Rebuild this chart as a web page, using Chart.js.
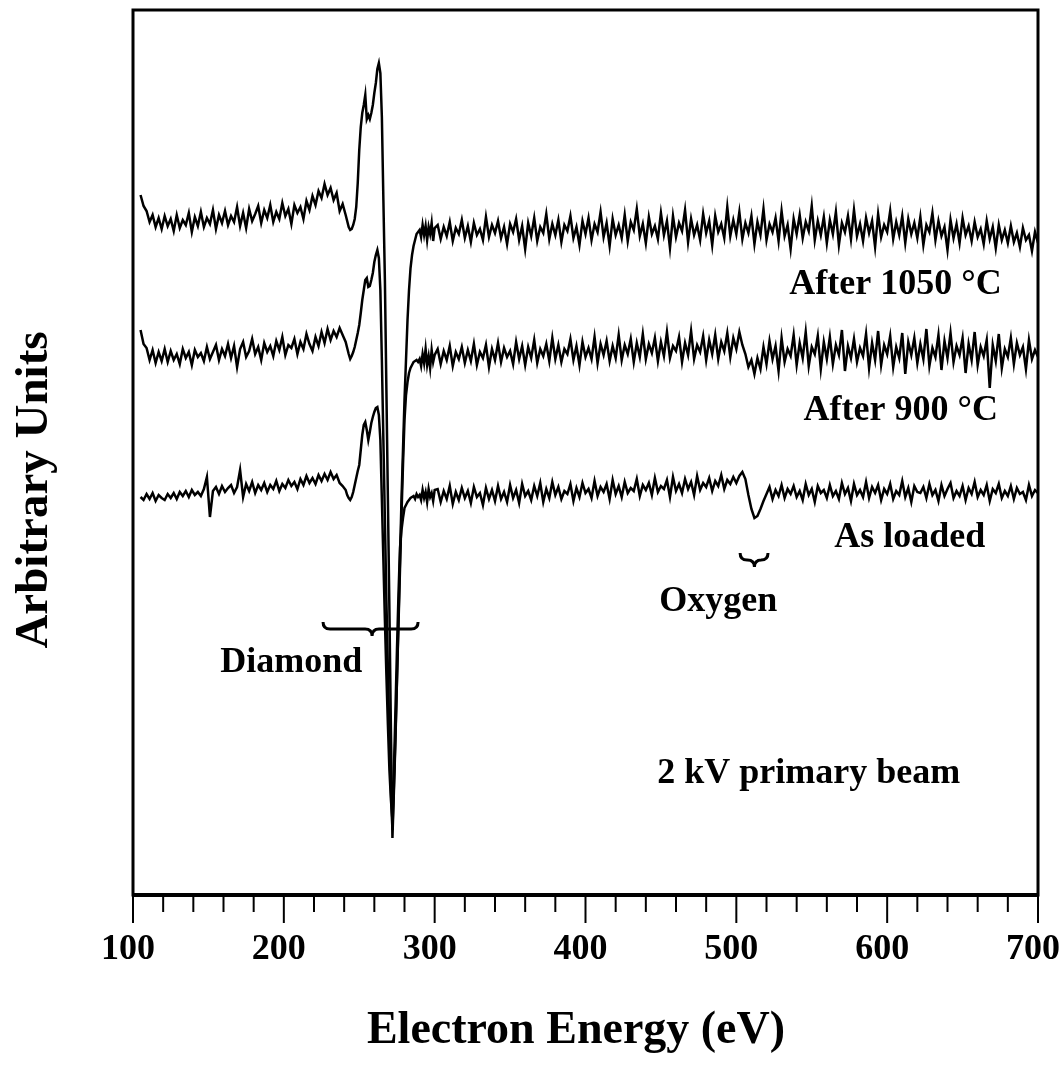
<!DOCTYPE html>
<html lang="en">
<head>
    <meta charset="UTF-8">
    <title>Auger spectra - diamond surface</title>
    <script src="https://cdn.jsdelivr.net/npm/chart.js"></script>
    <style>
        body {
            margin: 0;
            background: #fff;
        }
        .wrap {
            width: 1060px;
            height: 1070px;
        }
    </style>
</head>
<body>
    <div class="wrap"><canvas id="augerChart" width="1060" height="1070"></canvas></div>

    <script>
        // electron energy (eV), three sampling regions
        const energyLow = [
            105,107,109,111,113,115,117,119,121,123,
            125,127,129,131,133,135,137,139,141,143,
            145,147,149,151,153,155,157,159,161,163,
            165,167,169,171,173,175,177,179,181,183,
            185,187,189,191,193,195,197,199,201,203,
            205,207,209,211,213,215,217,219,221,223,
            225,227,229,231,233,235,237,239
        ];
        const energyPeak = [
            241,242,243,244,245,246,247,248,249,250,
            251,252,253,254,255,256,257,258,259,260,
            261,262,263,264,265,266,267,268,269,270,
            271,272,273,274,275,276,277,278,279,280,
            281,282,283,284,285,286,287,288,289,290,
            291,292,293,294,295,296,297,298,299,300
        ];
        const energyHigh = [
            302,304,306,308,310,312,314,316,318,320,
            322,324,326,328,330,332,334,336,338,340,
            342,344,346,348,350,352,354,356,358,360,
            362,364,366,368,370,372,374,376,378,380,
            382,384,386,388,390,392,394,396,398,400,
            402,404,406,408,410,412,414,416,418,420,
            422,424,426,428,430,432,434,436,438,440,
            442,444,446,448,450,452,454,456,458,460,
            462,464,466,468,470,472,474,476,478,480,
            482,484,486,488,490,492,494,496,498,500,
            502,504,506,508,510,512,514,516,518,520,
            522,524,526,528,530,532,534,536,538,540,
            542,544,546,548,550,552,554,556,558,560,
            562,564,566,568,570,572,574,576,578,580,
            582,584,586,588,590,592,594,596,598,600,
            602,604,606,608,610,612,614,616,618,620,
            622,624,626,628,630,632,634,636,638,640,
            642,644,646,648,650,652,654,656,658,660,
            662,664,666,668,670,672,674,676,678,680,
            682,684,686,688,690,692,694,696,698,700
        ];

        // After 1050 °C (arbitrary units)
        const after1050Low = [
            700,689,684,673,680,668,677,666,679,669,
            676,664,680,667,675,670,682,663,678,669,
            683,668,677,671,685,666,680,672,684,670,
            679,673,688,669,682,667,686,674,681,689,
            672,685,677,690,673,683,676,692,679,686,
            671,690,682,688,676,694,685,699,690,704,
            697,711,700,707,695,702,684,691
        ];
        const after1050Peak = [
            680,674,668,665,666,670,676,688,712,745,
            768,782,790,800,776,780,776,782,790,802,
            812,826,832,822,778,695,615,505,395,285,
            165,57,105,155,215,275,335,395,445,495,
            535,575,605,627,640,649,655,661,663,665,
            658,670,660,669,655,668,661,672,654,667
        ];
        const after1050High = [
            670,656,668,659,673,654,667,661,675,657,
            669,653,672,660,666,655,678,658,670,662,
            674,657,668,651,671,663,676,655,669,646,
            672,659,677,654,668,662,681,656,671,660,
            675,653,670,664,679,657,668,650,674,661,
            677,655,671,663,683,658,672,649,676,660,
            670,657,680,654,673,665,686,659,671,652,
            678,661,669,656,682,660,674,647,679,658,
            672,664,685,653,676,660,670,655,681,662,
            674,650,679,663,671,657,688,659,675,661,
            683,656,672,662,679,651,673,660,686,655,
            671,663,677,654,684,659,670,646,676,661,
            680,657,673,664,689,655,674,660,678,652,
            675,661,683,650,672,663,679,656,685,659,
            671,654,677,662,674,648,681,658,670,663,
            684,656,673,660,679,652,676,661,672,657,
            678,650,670,663,682,655,674,659,668,645,
            675,657,671,652,677,660,669,654,673,658,
            666,651,674,656,668,647,670,655,665,652,
            669,653,662,648,667,655,660,644,663,652
        ];

        // After 900 °C
        const after900Low = [
            565,551,547,535,545,532,543,534,546,533,
            544,535,541,531,546,537,543,530,545,538,
            542,534,548,536,543,550,535,546,539,551,
            537,549,528,546,553,538,544,556,541,548,
            535,552,543,549,539,554,545,558,540,550,
            547,556,541,553,546,561,551,544,558,549,
            563,552,566,555,564,558,567,560
        ];
        const after900Peak = [
            553,547,541,536,539,543,548,555,562,570,
            582,595,605,615,617,608,609,615,622,633,
            640,645,637,605,535,455,375,295,225,155,
            105,65,110,160,215,270,325,380,430,475,
            500,513,522,527,530,533,534,535,533,536,
            529,541,532,546,530,539,527,545,533,540
        ];
        const after900High = [
            546,531,544,535,549,529,543,536,548,532,
            545,534,551,530,543,537,550,528,546,535,
            552,533,547,538,544,531,553,536,549,530,
            548,537,555,532,546,539,551,534,557,536,
            550,533,546,541,556,535,549,530,553,538,
            547,536,558,532,551,540,554,534,549,537,
            560,535,550,541,556,533,552,538,561,536,
            551,542,557,534,553,539,563,537,549,544,
            558,533,552,540,564,536,550,543,559,535,
            555,541,560,536,553,544,562,538,557,546,
            563,550,541,528,535,521,537,526,548,531,
            554,536,549,524,557,533,546,539,560,530,
            552,537,563,529,548,541,559,526,553,536,
            558,531,550,540,565,524,549,537,556,533,
            547,539,561,527,552,535,564,530,550,541,
            559,528,548,537,562,521,553,540,557,532,
            551,536,566,529,547,538,560,525,554,537,
            562,533,549,540,557,522,551,535,563,530,
            548,539,555,507,550,534,561,527,546,538,
            557,531,552,540,548,526,555,536,545,538
        ];

        // As loaded
        const asLoadedLow = [
            398,395,401,396,402,394,400,397,395,401,
            397,402,396,403,399,404,398,405,400,403,
            399,406,418,378,404,408,401,409,403,407,
            410,402,408,425,398,411,404,413,402,410,
            405,412,403,410,406,414,404,411,407,415,
            409,413,406,416,410,419,412,417,411,420,
            414,421,415,423,416,420,412,409
        ];
        const asLoadedPeak = [
            405,400,397,395,398,403,410,417,424,430,
            445,460,470,473,465,455,463,472,478,483,
            487,488,480,455,395,335,275,220,170,125,
            95,75,125,185,245,300,347,365,377,387,
            390,393,395,397,398,399,396,401,398,400,
            395,405,397,403,393,406,398,402,394,405
        ];
        const asLoadedHigh = [
            406,393,404,396,409,391,403,395,407,397,
            404,392,408,398,402,390,407,396,405,394,
            409,396,403,393,410,397,405,392,411,399,
            404,395,409,399,412,393,406,397,413,400,
            408,396,404,401,411,394,407,398,412,402,
            406,397,414,399,408,403,411,396,415,401,
            409,398,413,402,407,404,416,399,410,405,
            412,400,417,403,409,406,415,398,418,404,
            411,402,416,406,413,400,419,405,412,408,
            417,404,414,409,420,406,415,411,418,412,
            419,423,416,400,386,377,379,386,394,401,
            408,396,405,399,410,397,406,401,409,398,
            404,395,411,400,406,393,409,402,405,397,
            410,399,404,396,412,401,407,394,411,400,
            405,398,413,397,408,402,410,395,406,401,
            411,396,404,400,414,398,407,393,409,403,
            402,408,397,411,400,405,394,410,399,406,
            412,397,404,399,409,395,407,401,413,398,
            405,400,410,394,406,402,411,397,404,399,
            409,396,407,401,403,395,410,399,405,402
        ];

        const majorTicks = [100, 200, 300, 400, 500, 600, 700];

        const serif = "'Liberation Serif', 'Times New Roman', serif";

        function toPoints(energies, values) {
            const n = Math.min(energies.length, values.length);
            const pts = [];
            for (let i = 0; i < n; i++) {
                pts.push({ x: energies[i], y: values[i] });
            }
            return pts;
        }

        function spectrum(low, peak, high) {
            return toPoints(energyLow, low)
                .concat(toPoints(energyPeak, peak))
                .concat(toPoints(energyHigh, high));
        }

        // text labels, placed in data units
        const notes = [
            { text: 'After 1050 °C', x: 605.5, y: 610 },
            { text: 'After 900 °C', x: 609, y: 484 },
            { text: 'As loaded', x: 615, y: 357 },
            { text: 'Oxygen', x: 488, y: 293 },
            { text: 'Diamond', x: 205, y: 232 },
            { text: '2 kV primary beam', x: 548, y: 121 }
        ];
        const braces = [
            { from: 226, to: 289, tip: 258.5, y: 266 },
            { from: 502.5, to: 521, tip: 512, y: 335 }
        ];

        function drawBrace(ctx, x1, x2, tx, y, h) {
            ctx.beginPath();
            ctx.moveTo(x1, y - h);
            ctx.quadraticCurveTo(x1, y, x1 + h, y);
            ctx.lineTo(tx - h, y);
            ctx.quadraticCurveTo(tx, y, tx, y + h);
            ctx.quadraticCurveTo(tx, y, tx + h, y);
            ctx.lineTo(x2 - h, y);
            ctx.quadraticCurveTo(x2, y, x2, y - h);
            ctx.stroke();
        }

        const framePlugin = {
            id: 'frame',
            afterDraw(chart) {
                const { ctx, chartArea: a } = chart;
                const xs = chart.scales.x;
                const ys = chart.scales.y;
                ctx.save();
                ctx.strokeStyle = '#000';
                ctx.lineWidth = 3;
                ctx.strokeRect(a.left, a.top, a.right - a.left, a.bottom - a.top);
                ctx.lineWidth = 4;
                ctx.beginPath();
                ctx.moveTo(a.left - 1, a.bottom);
                ctx.lineTo(a.right + 1, a.bottom);
                ctx.stroke();

                // outward tick marks
                ctx.lineWidth = 2;
                xs.ticks.forEach(t => {
                    const px = xs.getPixelForValue(t.value);
                    const len = majorTicks.includes(t.value) ? 28 : 17;
                    ctx.beginPath();
                    ctx.moveTo(px, a.bottom);
                    ctx.lineTo(px, a.bottom + len);
                    ctx.stroke();
                });

                // axis titles
                ctx.fillStyle = '#000';
                ctx.textAlign = 'center';
                ctx.textBaseline = 'middle';
                ctx.font = 'bold 46px ' + serif;
                ctx.fillText('Electron Energy (eV)', 576, 1031);
                ctx.save();
                ctx.translate(35, 490);
                ctx.rotate(-Math.PI / 2);
                ctx.font = 'bold 47px ' + serif;
                ctx.fillText('Arbitrary Units', 0, 0);
                ctx.restore();

                // annotations
                ctx.font = 'bold 36px ' + serif;
                notes.forEach(n => {
                    ctx.fillText(n.text, xs.getPixelForValue(n.x), ys.getPixelForValue(n.y));
                });

                ctx.lineWidth = 3;
                braces.forEach(b => {
                    drawBrace(ctx, xs.getPixelForValue(b.from), xs.getPixelForValue(b.to),
                        xs.getPixelForValue(b.tip), ys.getPixelForValue(b.y), 7);
                });
                ctx.restore();
            }
        };

        const lineStyle = {
            borderColor: '#000',
            borderWidth: 2.5,
            pointRadius: 0,
            tension: 0,
            fill: false
        };

        new Chart(document.getElementById('augerChart'), {
            type: 'line',
            data: {
                datasets: [
                    Object.assign({ label: 'After 1050 °C', data: spectrum(after1050Low, after1050Peak, after1050High) }, lineStyle),
                    Object.assign({ label: 'After 900 °C', data: spectrum(after900Low, after900Peak, after900High) }, lineStyle),
                    Object.assign({ label: 'As loaded', data: spectrum(asLoadedLow, asLoadedPeak, asLoadedHigh) }, lineStyle)
                ]
            },
            options: {
                responsive: false,
                animation: false,
                devicePixelRatio: 1,
                layout: { padding: { top: 10, right: 22, bottom: 0, left: 0 } },
                plugins: {
                    legend: { display: false },
                    tooltip: { enabled: false }
                },
                scales: {
                    x: {
                        type: 'linear',
                        min: 100,
                        max: 700,
                        grid: { display: false, drawTicks: false },
                        border: { display: false },
                        ticks: {
                            stepSize: 20,
                            autoSkip: false,
                            maxRotation: 0,
                            padding: 33,
                            labelOffset: -5,
                            color: '#000',
                            font: { family: serif, size: 36, weight: 'bold' },
                            callback: v => majorTicks.includes(v) ? String(v) : ''
                        },
                        title: { display: false },
                        afterFit(s) {
                            s.height = 175;
                            s.paddingLeft = 0;
                            s.paddingRight = 0;
                        }
                    },
                    y: {
                        min: 0,
                        max: 885,
                        grid: { display: false, drawTicks: false },
                        border: { display: false },
                        ticks: { display: false },
                        title: { display: false },
                        afterFit(s) {
                            s.width = 133;
                        }
                    }
                }
            },
            plugins: [framePlugin]
        });
    </script>
</body>
</html>
